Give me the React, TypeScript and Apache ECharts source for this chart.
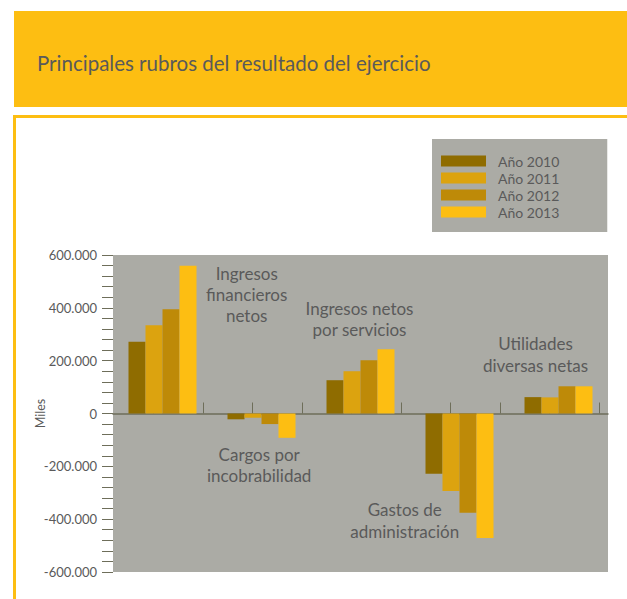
import React, { useEffect, useRef } from "react";
import * as echarts from "echarts";

const categories = [
  "Ingresos financieros netos",
  "Cargos por incobrabilidad",
  "Ingresos netos por servicios",
  "Gastos de administración",
  "Utilidades diversas netas",
];
const seriesNames = ["Año 2010", "Año 2011", "Año 2012", "Año 2013"];
const values2010 = [272000, -22000, 126000, -228000, 62000];
const values2011 = [334000, -16000, 160000, -293000, 61000];
const values2012 = [395000, -40000, 202000, -376000, 103000];
const values2013 = [559000, -92000, 243000, -471000, 103000];
const yTicks = [-600000, -400000, -200000, 0, 200000, 400000, 600000];
const annotationLines = [
  ["Ingresos", "financieros", "netos"],
  ["Cargos por", "incobrabilidad"],
  ["Ingresos netos", "por servicios"],
  ["Gastos de", "administración"],
  ["Utilidades", "diversas netas"],
];
const titleText = "Principales rubros del resultado del ejercicio";
const yName = "Miles";

const colors = ["#8F6C00", "#DCA30F", "#BE8A08", "#FDBE12"];
const FONT = "Lato, 'Open Sans', sans-serif";
const TEXT = "#5A5A5A";
const AXIS = "#6E6E5A";

// annotation centre positions (layout only)
const annoPos = [
  [246.7, 294.5],
  [259.2, 465],
  [359.5, 319],
  [404.7, 520.5],
  [535.5, 354.5],
];

function fmt(v: number) {
  if (v === 0) return "0";
  const s = String(Math.abs(v)).replace(/\B(?=(\d{3})+(?!\d))/g, ".");
  return (v < 0 ? "-" : "") + s;
}

export default function App() {
  const ref = useRef<HTMLDivElement>(null);
  useEffect(() => {
    document.body.style.margin = "0";
    const chart = echarts.init(ref.current!, null, { renderer: "svg" });
    const data = [values2010, values2011, values2012, values2013];
    chart.setOption({
      animation: false,
      backgroundColor: "#FFFFFF",
      grid: { left: 113, top: 255, width: 495, height: 317, containLabel: false, show: true, backgroundColor: "#ABABA5", borderWidth: 0 },
      legend: {
        orient: "vertical",
        left: 432,
        top: 139,
        itemWidth: 45,
        itemHeight: 11,
        itemGap: 3,
        padding: [15, 48, 13, 9],
        backgroundColor: "#ABABA5",
        icon: "rect",
        data: seriesNames,
        textStyle: { fontFamily: FONT, fontSize: 14, color: TEXT, padding: [0, 0, 0, 7] },
      },
      xAxis: [
        { type: "category", data: categories, show: false, axisLine: { onZero: false } },
        {
          type: "value",
          min: 0,
          max: 5,
          position: "bottom",
          axisLine: { show: true, onZero: true, lineStyle: { color: AXIS, width: 1.5 } },
          axisTick: {
            show: true,
            inside: true,
            length: 11,
            lineStyle: { color: AXIS, width: 1 },
            customValues: [0.41, 0.91, 1.41, 1.91, 2.41, 2.91, 3.41, 3.91, 4.41, 4.91],
          },
          axisLabel: { show: false },
          splitLine: { show: false },
        },
      ],
      yAxis: {
        type: "value",
        min: -600000,
        max: 600000,
        interval: 200000,
        name: yName,
        nameLocation: "middle",
        nameRotate: 90,
        nameGap: 66,
        nameMoveOverlap: false,
        nameTextStyle: { fontFamily: FONT, fontSize: 12.5, color: TEXT },
        axisLine: { show: false, onZero: false },
        axisTick: { show: true, length: 11, lineStyle: { color: AXIS } },
        minorTick: { show: true, splitNumber: 5, length: 11, lineStyle: { color: AXIS } },
        splitLine: { show: false },
        axisLabel: {
          customValues: yTicks,
          formatter: (v: number) => fmt(v),
          fontFamily: FONT,
          fontSize: 13,
          color: TEXT,
          margin: 16,
        },
      },
      series: data.map((d, i) => ({
        type: "bar",
        name: seriesNames[i],
        data: d,
        xAxisIndex: 0,
        barWidth: 17,
        barGap: "0%",
        itemStyle: { color: colors[i] },
      })),
      graphic: [
        { type: "rect", shape: { x: 14, y: 11, width: 613, height: 96 }, style: { fill: "#FDBE12" }, silent: true },
        {
          type: "text",
          x: 37,
          y: 63,
          style: { text: titleText, fontFamily: FONT, fontSize: 20.5, fill: TEXT, verticalAlign: "middle", align: "left" },
        },
        {
          type: "polyline",
          shape: { points: [[627, 116.5], [14.5, 116.5], [14.5, 599]] },
          style: { stroke: "#FDBE12", lineWidth: 3, fill: "none" },
          silent: true,
        },
        ...annotationLines.map((lines, i) => ({
          type: "text",
          x: annoPos[i][0],
          y: annoPos[i][1],
          z: 100,
          style: {
            text: lines.join("\n"),
            fontFamily: FONT,
            fontSize: 17,
            lineHeight: 21.2,
            fill: TEXT,
            align: "center",
            verticalAlign: "middle",
          },
        })),
      ],
    });
    return () => chart.dispose();
  }, []);
  return <div ref={ref} style={{ width: 627, height: 599 }} />;
}
